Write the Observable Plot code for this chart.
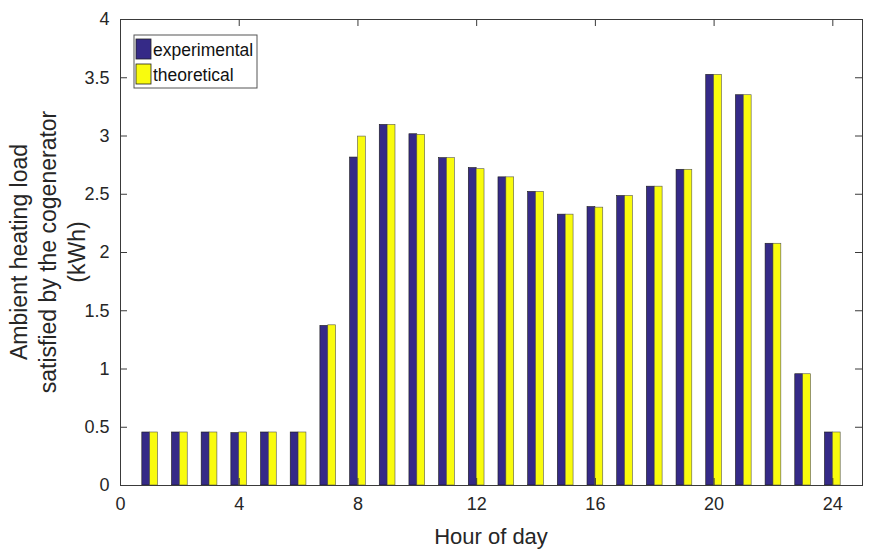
<!DOCTYPE html>
<html>
<head>
<meta charset="utf-8">
<script src="https://cdn.jsdelivr.net/npm/d3@7"></script>
<script src="https://cdn.jsdelivr.net/npm/@observablehq/plot@0.6"></script>
<style>
  body { margin: 0; background: #fff; }
  #chart { width: 876px; height: 558px; }
</style>
</head>
<body>
<div id="chart"></div>
<script>
const hours = [1,2,3,4,5,6,7,8,9,10,11,12,13,14,15,16,17,18,19,20,21,22,23,24];
const experimental = [0.455,0.455,0.455,0.45,0.455,0.455,1.37,2.815,3.095,3.015,2.81,2.725,2.645,2.52,2.325,2.39,2.485,2.565,2.71,3.525,3.35,2.075,0.955,0.455];
const theoretical  = [0.455,0.455,0.455,0.455,0.455,0.455,1.375,2.995,3.095,3.01,2.81,2.715,2.645,2.52,2.325,2.385,2.485,2.565,2.71,3.525,3.35,2.075,0.955,0.455];
const xTicks = [0,4,8,12,16,20,24];
const yTicks = [0,0.5,1,1.5,2,2.5,3,3.5,4];
const seriesNames = ["experimental","theoretical"];
const colors = ["#352a87","#f9fb0e"];

const rows = hours.map((h,i) => ({hour: h, exp: experimental[i], theo: theoretical[i]}));
const W = 876, H = 558;
const mL = 120, mR = 14, mT = 19, mB = 73;
const fw = W - mL - mR, fh = H - mT - mB;
const bw = 0.265;
const font = "'Liberation Sans', Arial, Helvetica, sans-serif";
const ink = "#262626";

const chart = Plot.plot({
  width: W, height: H,
  marginLeft: mL, marginRight: mR, marginTop: mT, marginBottom: mB,
  style: {fontFamily: font, fontSize: "18px", color: ink, background: "#fff", overflow: "visible"},
  x: {domain: [0, 25], ticks: xTicks},
  y: {domain: [0, 4], ticks: yTicks},
  marks: [
    Plot.rectY(rows, {x1: d => d.hour - bw, x2: d => d.hour, y1: 0, y2: "exp", fill: colors[0], stroke: "#1a1a1a", strokeWidth: 0.6}),
    Plot.rectY(rows, {x1: d => d.hour, x2: d => d.hour + bw, y1: 0, y2: "theo", fill: colors[1], stroke: "#555", strokeWidth: 0.6}),
    Plot.frame({stroke: "#3a3a3a", strokeWidth: 1}),
    Plot.tickX(xTicks, {x: d => d, insetTop: fh - 7, stroke: "#3a3a3a"}),
    Plot.tickX(xTicks, {x: d => d, insetBottom: fh - 7, stroke: "#3a3a3a"}),
    Plot.tickY(yTicks, {y: d => d, insetRight: fw - 7, stroke: "#3a3a3a"}),
    Plot.tickY(yTicks, {y: d => d, insetLeft: fw - 7, stroke: "#3a3a3a"}),
    Plot.axisX({ticks: xTicks, tickSize: 0, tickPadding: 12, label: null, fill: ink, fontSize: 18}),
    Plot.axisY({ticks: yTicks, tickSize: 0, tickPadding: 11, label: null, tickFormat: d => String(d), fill: ink, fontSize: 18})
  ]
});

document.getElementById("chart").appendChild(chart);

const svg = d3.select(chart);
// axis titles
svg.append("text")
  .attr("x", mL + fw * 0.5).attr("y", 544)
  .attr("text-anchor", "middle")
  .attr("font-size", 22).attr("fill", ink).attr("font-family", font)
  .text("Hour of day");

const yLines = ["Ambient heating load", "satisfied by the cogenerator", "(kWh)"];
const yLineX = [19, 48, 77];
yLines.forEach((t, i) => {
  svg.append("text")
    .attr("transform", `translate(${yLineX[i]},${mT + fh / 2}) rotate(-90)`)
    .attr("text-anchor", "middle")
    .attr("dominant-baseline", "central")
    .attr("font-size", 23).attr("fill", ink).attr("font-family", font)
    .text(t);
});

// legend
const lg = svg.append("g").attr("transform", "translate(134,35)");
lg.append("rect").attr("width", 123).attr("height", 53).attr("fill", "#fff").attr("stroke", "#555").attr("stroke-width", 1);
seriesNames.forEach((n, i) => {
  lg.append("rect").attr("x", 2).attr("y", 4 + i * 25).attr("width", 15).attr("height", 20)
    .attr("fill", colors[i]).attr("stroke", "#222").attr("stroke-width", 0.8);
  lg.append("text").attr("x", 19).attr("y", 21 + i * 25)
    .attr("text-anchor", "start")
    .attr("font-size", 17.5).attr("fill", "#111").attr("font-family", font)
    .text(n);
});
</script>
</body>
</html>
